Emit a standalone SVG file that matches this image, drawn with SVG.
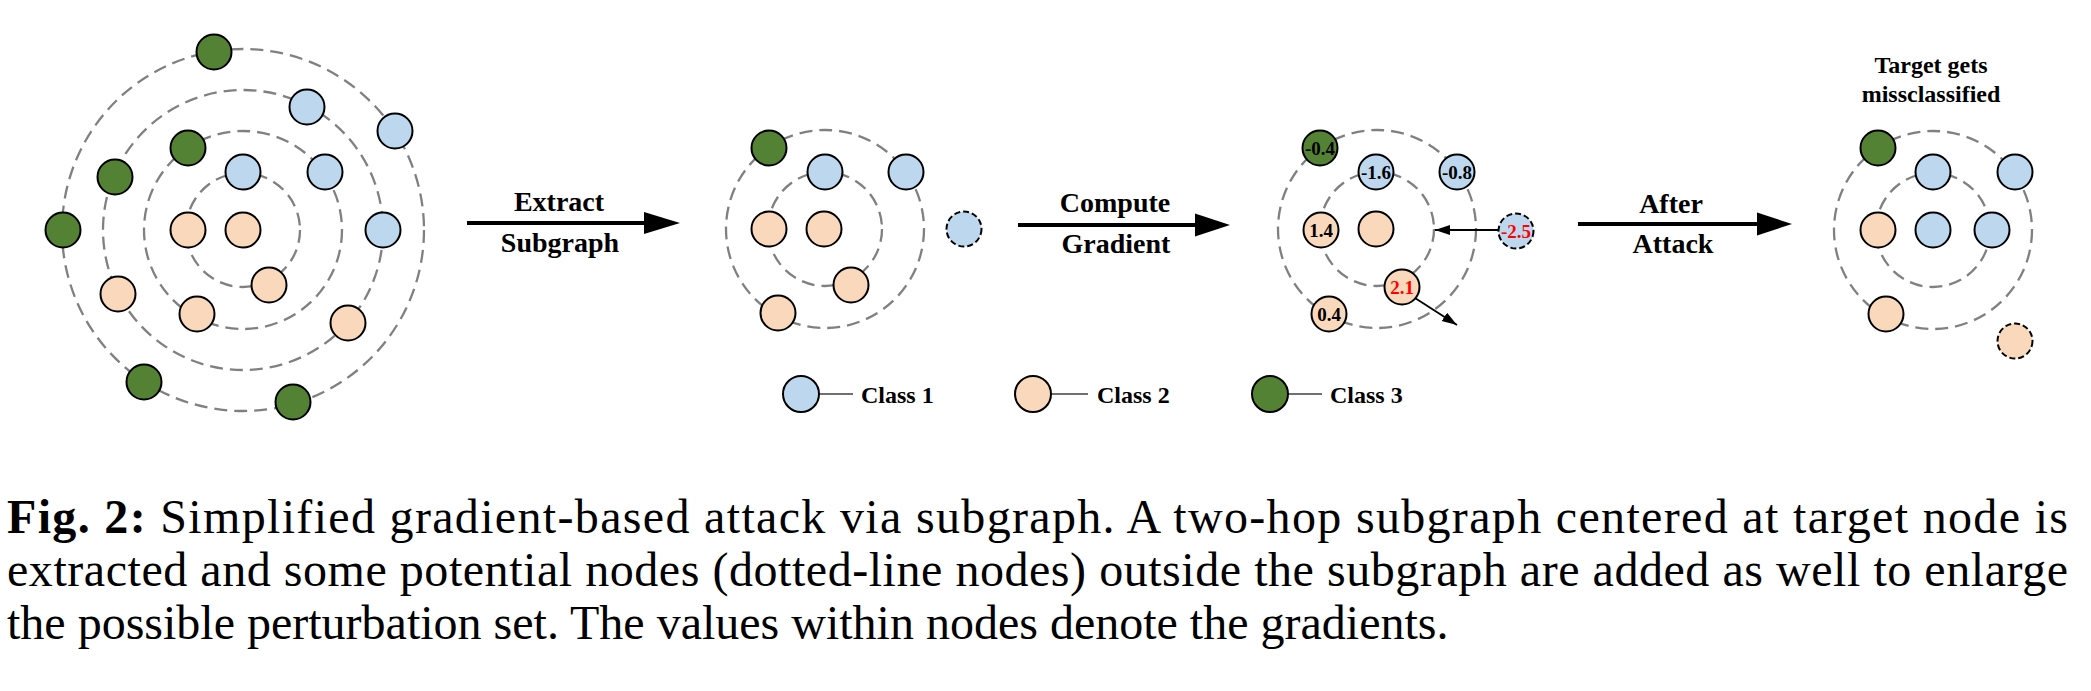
<svg xmlns="http://www.w3.org/2000/svg" width="2091" height="691" viewBox="0 0 2091 691">
<style>
.ring{fill:none;stroke:#808080;stroke-width:2.3;stroke-dasharray:13 7}
.n{stroke:#000;stroke-width:2}
.b{fill:#BDD7EE}.p{fill:#F9D8BB}.g{fill:#548235}
.dsh{stroke-dasharray:6 3}
.lbl{font-family:"Liberation Serif","Times New Roman",serif;font-weight:bold;font-size:28px;text-anchor:middle;fill:#000}
.ttl{font-family:"Liberation Serif","Times New Roman",serif;font-weight:bold;font-size:24px;text-anchor:middle;fill:#000}
.num{font-family:"Liberation Serif","Times New Roman",serif;font-weight:bold;font-size:19px;text-anchor:middle;fill:#000}
.red{fill:#FF0000}
.leg{font-family:"Liberation Serif","Times New Roman",serif;font-weight:bold;font-size:24px;fill:#000}
.cap{font-family:"Liberation Serif","Times New Roman",serif;font-size:48px;fill:#000}
.big{stroke:#000;stroke-width:4}
.sm{stroke:#000;stroke-width:1.8;marker-end:url(#sa)}
.legl{stroke:#404040;stroke-width:1.5}
</style>
<defs>
<marker id="sa" markerUnits="userSpaceOnUse" markerWidth="16" markerHeight="11" refX="15" refY="5" orient="auto"><path d="M0,0 L15,5 L0,10 z" fill="#000"/></marker>
</defs>
<rect width="2091" height="691" fill="#fff"/>

<g id="rings">
<circle class="ring" cx="243" cy="230" r="57"/>
<circle class="ring" cx="243" cy="230" r="99"/>
<circle class="ring" cx="243" cy="230" r="140"/>
<circle class="ring" cx="243" cy="230" r="181"/>
<circle class="ring" cx="825" cy="229" r="57"/>
<circle class="ring" cx="825" cy="229" r="99"/>
<circle class="ring" cx="1377" cy="229" r="57"/>
<circle class="ring" cx="1377" cy="229" r="99"/>
<circle class="ring" cx="1933" cy="230" r="57"/>
<circle class="ring" cx="1933" cy="230" r="99"/>
</g>

<g id="connectors">
<line class="big" x1="467" y1="223" x2="646" y2="223"/>
<polygon points="644,212 680,223 644,234" fill="#000"/>
<line class="big" x1="1018" y1="225" x2="1197" y2="225"/>
<polygon points="1195,213.5 1230,225 1195,236.5" fill="#000"/>
<line class="big" x1="1578" y1="224" x2="1759" y2="224"/>
<polygon points="1757,212.5 1792,224 1757,235.5" fill="#000"/>
<line class="sm" x1="1498" y1="230" x2="1435" y2="230"/>
<line class="sm" x1="1415" y1="298" x2="1457" y2="325"/>
<line class="legl" x1="819" y1="394" x2="853" y2="394"/>
<line class="legl" x1="1051" y1="394" x2="1088" y2="394"/>
<line class="legl" x1="1288" y1="394" x2="1322" y2="394"/>
</g>

<g id="panel1">
<g id="p1n1"><circle class="n g" cx="214" cy="52" r="17.5"/></g>
<g id="p1n2"><circle class="n b" cx="307" cy="107" r="17.5"/></g>
<g id="p1n3"><circle class="n b" cx="395" cy="131" r="17.5"/></g>
<g id="p1n4"><circle class="n g" cx="188" cy="148" r="17.5"/></g>
<g id="p1n5"><circle class="n g" cx="115" cy="177" r="17.5"/></g>
<g id="p1n6"><circle class="n b" cx="243" cy="172" r="17.5"/></g>
<g id="p1n7"><circle class="n b" cx="325" cy="172" r="17.5"/></g>
<g id="p1n8"><circle class="n g" cx="63" cy="230" r="17.5"/></g>
<g id="p1n9"><circle class="n p" cx="188" cy="230" r="17.5"/></g>
<g id="p1n10"><circle class="n p" cx="243" cy="230" r="17.5"/></g>
<g id="p1n11"><circle class="n b" cx="383" cy="230" r="17.5"/></g>
<g id="p1n12"><circle class="n p" cx="269" cy="285" r="17.5"/></g>
<g id="p1n13"><circle class="n p" cx="118" cy="294" r="17.5"/></g>
<g id="p1n14"><circle class="n p" cx="197" cy="314" r="17.5"/></g>
<g id="p1n15"><circle class="n p" cx="348" cy="323" r="17.5"/></g>
<g id="p1n16"><circle class="n g" cx="144" cy="382" r="17.5"/></g>
<g id="p1n17"><circle class="n g" cx="293" cy="402" r="17.5"/></g>
</g>

<g id="label-extract">
<text class="lbl" x="559" y="211">Extract</text>
<text class="lbl" x="560" y="252">Subgraph</text>
</g>

<g id="panel2">
<g id="p2n1"><circle class="n g" cx="769" cy="148" r="17.5"/></g>
<g id="p2n2"><circle class="n b" cx="825" cy="172" r="17.5"/></g>
<g id="p2n3"><circle class="n b" cx="906" cy="172" r="17.5"/></g>
<g id="p2n4"><circle class="n p" cx="769" cy="229" r="17.5"/></g>
<g id="p2n5"><circle class="n p" cx="824" cy="229" r="17.5"/></g>
<g id="p2n6"><circle class="n b dsh" cx="964" cy="229" r="17.5"/></g>
<g id="p2n7"><circle class="n p" cx="851" cy="285" r="17.5"/></g>
<g id="p2n8"><circle class="n p" cx="778" cy="313" r="17.5"/></g>
</g>

<g id="label-compute">
<text class="lbl" x="1115" y="212">Compute</text>
<text class="lbl" x="1116" y="253">Gradient</text>
</g>

<g id="panel3">
<g id="p3n1"><circle class="n g" cx="1320" cy="148" r="17.5"/><text class="num" x="1320" y="154.5">-0.4</text></g>
<g id="p3n2"><circle class="n b" cx="1376" cy="172" r="17.5"/><text class="num" x="1376" y="178.5">-1.6</text></g>
<g id="p3n3"><circle class="n b" cx="1457" cy="172" r="17.5"/><text class="num" x="1457" y="178.5">-0.8</text></g>
<g id="p3n4"><circle class="n p" cx="1321" cy="230" r="17.5"/><text class="num" x="1321" y="236.5">1.4</text></g>
<g id="p3n5"><circle class="n p" cx="1376" cy="229" r="17.5"/></g>
<g id="p3n6"><circle class="n b dsh" cx="1516" cy="231" r="17.5"/><text class="num red" x="1516" y="237.5">-2.5</text></g>
<g id="p3n7"><circle class="n p" cx="1402" cy="287" r="17.5"/><text class="num red" x="1402" y="293.5">2.1</text></g>
<g id="p3n8"><circle class="n p" cx="1329" cy="314" r="17.5"/><text class="num" x="1329" y="320.5">0.4</text></g>
</g>

<g id="label-after">
<text class="lbl" x="1671" y="213">After</text>
<text class="lbl" x="1673" y="253">Attack</text>
</g>

<g id="panel4">
<g id="p4title">
<text class="ttl" x="1931" y="73">Target gets</text>
<text class="ttl" x="1931" y="102">missclassified</text>
</g>
<g id="p4n1"><circle class="n g" cx="1878" cy="148" r="17.5"/></g>
<g id="p4n2"><circle class="n b" cx="1933" cy="172" r="17.5"/></g>
<g id="p4n3"><circle class="n b" cx="2015" cy="172" r="17.5"/></g>
<g id="p4n4"><circle class="n p" cx="1878" cy="230" r="17.5"/></g>
<g id="p4n5"><circle class="n b" cx="1933" cy="230" r="17.5"/></g>
<g id="p4n6"><circle class="n b" cx="1992" cy="230" r="17.5"/></g>
<g id="p4n7"><circle class="n p" cx="1886" cy="314" r="17.5"/></g>
<g id="p4n8"><circle class="n p dsh" cx="2015" cy="341" r="17.5"/></g>
</g>

<g id="legend">
<g id="leg1"><circle class="n b" cx="801" cy="394" r="18"/><text class="leg" x="861" y="403">Class 1</text></g>
<g id="leg2"><circle class="n p" cx="1033" cy="394" r="18"/><text class="leg" x="1097" y="403">Class 2</text></g>
<g id="leg3"><circle class="n g" cx="1270" cy="394" r="18"/><text class="leg" x="1330" y="403">Class 3</text></g>
</g>

<g id="caption">
<text class="cap" x="7" y="533" textLength="2061" lengthAdjust="spacing"><tspan font-weight="bold">Fig. 2:</tspan> Simplified gradient-based attack via subgraph. A two-hop subgraph centered at target node is</text>
<text class="cap" x="7" y="586" textLength="2061" lengthAdjust="spacing">extracted and some potential nodes (dotted-line nodes) outside the subgraph are added as well to enlarge</text>
<text class="cap" x="7" y="639">the possible perturbation set. The values within nodes denote the gradients.</text>
</g>
</svg>
